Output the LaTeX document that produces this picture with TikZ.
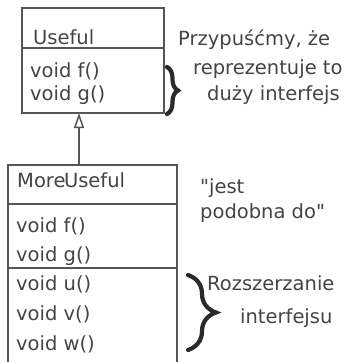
\documentclass[tikz,border=0pt]{standalone}
\usepackage{fontspec}
\newfontfamily\labelfont{DejaVu Sans}
\usetikzlibrary{arrows.meta,decorations.pathreplacing}
\definecolor{ink}{HTML}{444444}
\definecolor{rule}{HTML}{555555}
\definecolor{bracecol}{HTML}{2A2A2A}
\begin{document}
\begin{tikzpicture}[x=1pt,y=-1pt,
  classbox/.style={draw=rule,line width=1.8pt,inner sep=0pt,outer sep=0pt},
  txt/.style={anchor=base west,inner sep=0pt,text=ink,font=\labelfont\fontsize{19.5}{23}\selectfont},
  sep/.style={draw=rule,line width=1.8pt},
  bigbrace/.style={draw=bracecol,line width=4.2pt,line cap=round,decorate,decoration={brace,amplitude=#1}},
  gen/.style={draw=rule,line width=1.6pt,-{Triangle[open,length=15pt,width=10pt,line width=1.5pt]}}]
  \useasboundingbox (0,0) rectangle (348,362);
  \clip (0,0) rectangle (348,362);
  \fill[white] (0,0) rectangle (348,362);

  % class Useful
  \node[classbox,minimum width=142pt,minimum height=105pt] (useful) at (93,60.5) {};
  \draw[sep] (22,48) -- (164,48);
  \node[txt] (uname) at (33,44) {Useful};
  \node[txt] (uf) at (30,77) {void f()};
  \node[txt] (ug) at (30,100) {void g()};

  % class MoreUseful (runs past the lower edge)
  \node[classbox,minimum width=169pt,minimum height=220pt] (more) at (92.5,275) {};
  \draw[sep] (8,204) -- (177,204);
  \draw[sep] (8,268) -- (177,268);
  \node[txt] (mname) at (17,187) {More\kern-1.5pt Useful};
  \node[txt] (mf) at (16,232) {void f()};
  \node[txt] (mg) at (16,261) {void g()};
  \node[txt] (mu) at (16,290) {void u()};
  \node[txt] (mv) at (16,320) {void v()};
  \node[txt] (mw) at (16,350) {void w()};

  % generalization arrow
  \coordinate (base) at (79,165);
  \draw[gen] (base) -- (base |- useful.south);

  % notes
  \node[txt] (n1) at (178,45) {Przypuśćmy, że};
  \node[txt] (n2) at (193,74) {reprezentuje to};
  \node[txt] (n3) at (207,100) {duży interfejs};
  \draw[bigbrace=11pt] (167,67) -- (167,114);

  \node[txt] (n4) at (200,193) {"jest};
  \node[txt] (n5) at (200,218) {podobna do"};

  \node[txt] (n6) at (207,290) {Rozszerzanie};
  \node[txt] (n7) at (240,323) {interfejsu};
  \draw[bigbrace=28pt] (188,275) -- (188,350);
\end{tikzpicture}
\end{document}
